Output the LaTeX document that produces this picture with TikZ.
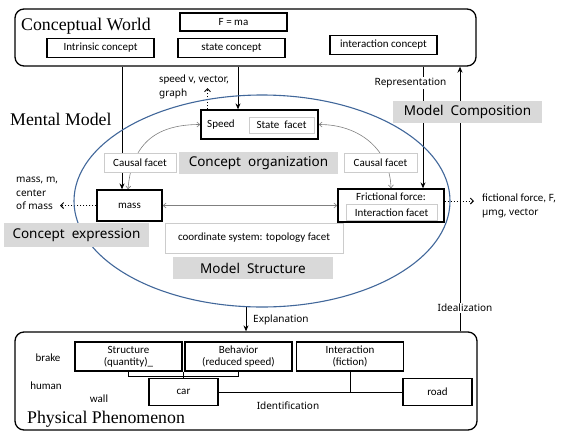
\documentclass[tikz,border=0pt]{standalone}
\usepackage{fontspec}
\setmainfont{Liberation Serif}
\newfontfamily\nsans{Noto Sans}
\newfontfamily\csans{Carlito}
\usetikzlibrary{arrows.meta,backgrounds,shapes.geometric}
\definecolor{ellblue}{HTML}{41679A}
\definecolor{lblgray}{HTML}{D9D9D9}
\definecolor{lightborder}{HTML}{CCCCCC}
\tikzset{
 blackbox/.style={draw, line width=1.3pt, fill=white, inner sep=0pt, align=center, font=\csans\fontsize{11}{12}\selectfont},
 softbox/.style={draw=lightborder, line width=0.8pt, fill=white, inner sep=0pt, font=\csans\fontsize{11}{12}\selectfont},
 graylabel/.style={fill=lblgray, inner sep=0pt, font=\nsans\fontsize{13.5}{15}\selectfont},
 titletext/.style={font=\fontsize{17.8}{20}\selectfont, inner sep=0pt},
 smalltext/.style={font=\nsans\fontsize{10}{13.5}\selectfont, inner sep=0pt, align=left},
 ctext/.style={font=\csans\fontsize{11}{12}\selectfont, inner sep=0pt},
 mainarrow/.style={line width=1pt, -{Stealth[length=6pt,width=5pt]}},
 plainline/.style={line width=1pt},
 dotarrow/.style={line width=1pt, dotted, -{Straight Barb[length=3pt,width=6pt]}},
 grayarrow/.style={draw=gray, line width=0.6pt, {Straight Barb[length=3pt,width=5pt]}-{Straight Barb[length=3pt,width=5pt]}},
 region/.style={draw, line width=1.3pt, rounded corners=9pt, inner sep=0pt},
}
\begin{document}
\begin{tikzpicture}[x=1pt,y=-1pt]
\path[use as bounding box] (0,0) rectangle (562,432);
% regions
\node[region, minimum width=461pt, minimum height=57pt] (cw) at (245.5,37.5) {};
\node[region, minimum width=462pt, minimum height=98pt] (pp) at (246,381) {};
\node[titletext, anchor=base west] (cwt) at (21,30) {Conceptual World};
\node[titletext, anchor=base west] (mmt) at (10,125) {Mental Model};
\node[titletext, anchor=base west] (ppt) at (27,423) {Physical Phenomenon};
% conceptual world boxes
\node[blackbox, minimum width=107pt, minimum height=18pt] (fma) at (233.5,22) {F = ma};
\node[blackbox, minimum width=107pt, minimum height=19pt] (intr) at (100.5,48) {Intrinsic concept};
\node[blackbox, minimum width=107pt, minimum height=19pt] (state) at (231.5,48) {state concept};
\node[blackbox, minimum width=107pt, minimum height=19pt] (inter) at (383.5,45) {interaction concept};
% mental model
\node[draw=ellblue, line width=1.1pt, ellipse, minimum width=376pt, minimum height=212pt, inner sep=0pt] (mm) at (262,201) {};
\node[blackbox, minimum width=117pt, minimum height=29pt] (speed) at (259.5,124.5) {};
\node[softbox, minimum width=65pt, minimum height=16pt] (sfacet) at (281.5,125) {State\ \ facet};
\node[ctext, anchor=west] (speedt) at (207,125) {Speed};
\node[graylabel, minimum width=159pt, minimum height=22pt] (corg) at (258.5,163) {Concept\ \ organization};
\node[softbox, minimum width=72pt, minimum height=19pt] (cfl) at (140,162.5) {Causal facet};
\node[softbox, minimum width=73pt, minimum height=19pt] (cfr) at (380.5,162.5) {Causal facet};
\node[blackbox, minimum width=65pt, minimum height=31pt] (mass) at (129.5,205.5) {mass};
\node[blackbox, minimum width=106pt, minimum height=33pt] (fric) at (391,205.5) {};
\node[ctext] (frict) at (391,197) {Frictional force:};
\node[softbox, minimum width=91pt, minimum height=16pt] (ifacet) at (391.5,212.5) {Interaction facet};
\node[graylabel, minimum width=145pt, minimum height=24pt] (cexp) at (76.5,235) {Concept\ \ expression};
\node[softbox, minimum width=178pt, minimum height=30pt] (coord) at (254,238) {coordinate system: topology facet};
\node[graylabel, minimum width=160pt, minimum height=22pt] (mstr) at (253,268) {Model\ \ Structure};
\node[graylabel, minimum width=149pt, minimum height=22pt] (mcomp) at (467.5,112) {Model\ \ Composition};
% small labels
\node[smalltext, fill=white, inner sep=1.5pt] (repr) at (410.5,83) {Representation};
\node[smalltext, fill=white, inner sep=1.5pt] (ideal) at (465,308) {Idealization};
\node[smalltext, anchor=west] (expl) at (253,320) {Explanation};
\node[smalltext, anchor=north west] (spv) at (159,75) {{\csans\fontsize{11}{13.5}\selectfont speed} v, vector,\\graph};
\node[smalltext, anchor=north west] (massm) at (16,177) {mass, m,\\center\\of mass};
\node[smalltext, anchor=north west] (ffF) at (482,194) {{\csans\fontsize{11}{13.5}\selectfont fictional force,} F,\\µmg, vector};
% physical phenomenon
\node[blackbox, minimum width=107pt, minimum height=29pt] (struct) at (128.5,356.5) {Structure\\(quantity)\_};
\node[blackbox, minimum width=107pt, minimum height=29pt] (behav) at (238.5,356.5) {Behavior\\(reduced speed)};
\node[blackbox, minimum width=107pt, minimum height=29pt] (interb) at (350,356.5) {Interaction\\(fiction)};
\node[blackbox, minimum width=69pt, minimum height=27pt] (car) at (183.5,392) {car};
\node[blackbox, minimum width=69pt, minimum height=27pt] (road) at (437.5,392) {road};
\node[ctext] (brake) at (48,358) {brake};
\node[ctext] (human) at (46,386) {human};
\node[ctext] (wall) at (99,399) {wall};
\node[smalltext] (ident) at (288,406) {Identification};
% coordinates
\coordinate (spvtip) at (207.5,88);
\coordinate (massdot) at (60,205.5);
\coordinate (fricdot) at (474,201);
\coordinate (idx) at (460,0);
\coordinate (ebot) at (246,306.5);
\begin{scope}[on background layer]
\draw[mainarrow] ([xshift=-7.5pt]mass.north |- cw.south) -- ([xshift=-7.5pt]mass.north);
\draw[mainarrow] ([xshift=-21.5pt]speed.north |- cw.south) -- ([xshift=-21.5pt]speed.north);
\draw[mainarrow] ([xshift=32pt]fric.north |- cw.south) -- ([xshift=32pt]fric.north);
\draw[mainarrow] (pp.north -| idx) -- (cw.south -| idx);
\draw[mainarrow] (ebot) -- (ebot |- pp.north);
\draw[dotarrow] (speed.north -| spvtip) -- (spvtip);
\draw[dotarrow] (mass.west) -- (massdot);
\draw[dotarrow] (fric.east |- fricdot) -- (fricdot);
\draw[grayarrow] ([xshift=-1.5pt]mass.north) .. controls (132,140) and (160,124.5) .. (speed.west);
\draw[grayarrow] (speed.east) .. controls (360,124.5) and (390,150) .. (fric.north);
\draw[grayarrow] (mass.east) -- (fric.west);
\draw[plainline] (struct.south) -- ++(0,5) -| (behav.south);
\draw[plainline] (car.north) -- (car.north |- struct.south);
\draw[plainline] (interb.south) |- (car.east);
\draw[plainline] (car.east) -- (road.west);
\end{scope}
\end{tikzpicture}
\end{document}
